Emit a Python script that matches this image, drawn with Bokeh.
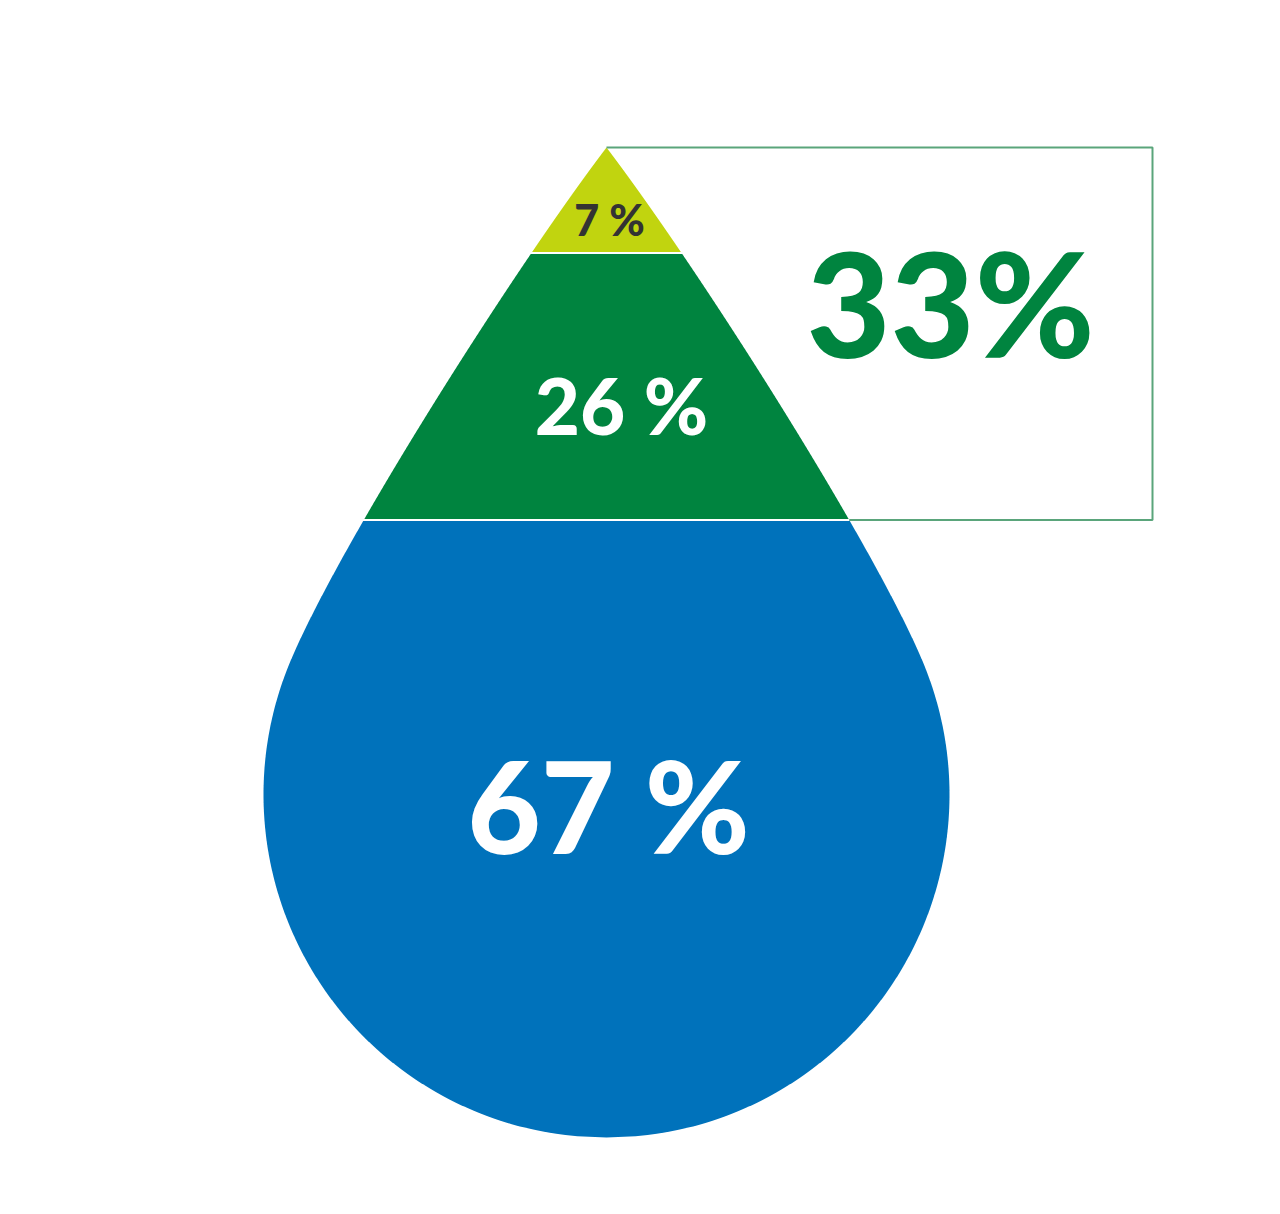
import numpy as np
from bokeh.plotting import figure
from bokeh.models import Range1d, ColumnDataSource
from bokeh.core.properties import value
from bokeh.embed import file_html
from bokeh.resources import INLINE

# ---- data ----
segments = ["Top", "Middle", "Bottom"]
shares = [7, 26, 67]
bracket_share = shares[0] + shares[1]  # 33

# ---- style ----
seg_colors = ["#c1d40f", "#00843f", "#0072bb"]
label_colors = ["#333333", "#ffffff", "#ffffff"]
label_px = [43, 78, 127]
FONT = "Lato Black, Lato"

W, H = 1264, 1198
p = figure(width=W, height=H, x_range=Range1d(0, W), y_range=Range1d(H, 0),
           output_backend="svg", toolbar_location=None, min_border=0)
p.axis.visible = False
p.grid.visible = False
p.outline_line_color = None
p.background_fill_color = "white"

# ---- drop geometry (layout) ----
cx, tip = 606.0, 147.0
R, circ_t = 343.0, 647.0
join_t = 520.0
join_x = np.sqrt(R ** 2 - (circ_t - join_t) ** 2)
end_dir = np.array([circ_t - join_t, join_x])
end_dir = end_dir / np.hypot(*end_dir)
start_dir = np.array([0.605, 0.796])
P0 = np.array([0.0, 0.0])
P1 = 160 * start_dir
P3 = np.array([join_x, join_t])
P2 = P3 - 120 * end_dir
s = np.linspace(0, 1, 500)[:, None]
bez = ((1 - s) ** 3) * P0 + 3 * ((1 - s) ** 2) * s * P1 + 3 * (1 - s) * s ** 2 * P2 + s ** 3 * P3
phi0 = np.arctan2(join_x, join_t - circ_t)
phi = np.linspace(phi0, 0, 500)[1:]
arc_x = R * np.sin(phi)
arc_t = circ_t + R * np.cos(phi)
prof_x = np.concatenate([bez[:, 0], arc_x])
prof_t = np.concatenate([bez[:, 1], arc_t])
order = np.argsort(prof_t)
prof_x, prof_t = prof_x[order], prof_t[order]


def half_width(t):
    return np.interp(t, prof_t, prof_x)


# cut positions of the segments along the drop (layout), with a 2px white gap
cuts = [0.0, 105.5, 372.5, circ_t + R]
gap = 1.0
xs, ys = [], []
for i in range(len(shares)):
    a = cuts[i] + (gap if i > 0 else 0)
    b = cuts[i + 1] - (gap if i < len(shares) - 1 else 0)
    tt = np.linspace(a, b, 500)
    w = half_width(tt)
    xs.append(list(np.concatenate([cx + w, cx - w[::-1]])))
    ys.append(list(np.concatenate([tip + tt, tip + tt[::-1]])))

src = ColumnDataSource(dict(xs=xs, ys=ys, color=seg_colors, seg=segments))
p.patches("xs", "ys", source=src, fill_color="color", line_color=None)

# ---- bracket around the top two segments ----
box_right = 1152.0
t_bot = cuts[2]
p.line([cx, box_right, box_right, cx + half_width(t_bot)],
       [tip, tip, tip + t_bot, tip + t_bot],
       line_color="#5aa57b", line_width=2)

# ---- labels ----
BASE_SHIFT = 0.42
label_base = [237, 437, 858]
label_x = [609, 621, 608]
for i in range(len(shares)):
    p.text(x=[label_x[i]], y=[label_base[i] - BASE_SHIFT * label_px[i]],
           text=[f"{shares[i]} %"],
           text_font=value(FONT), text_font_style="bold",
           text_font_size=f"{label_px[i]}px", text_color=label_colors[i],
           text_align="center", text_baseline="alphabetic")

big_px = 145
p.text(x=[950], y=[362 - BASE_SHIFT * big_px], text=[f"{bracket_share}%"],
       text_font=value(FONT), text_font_style="bold",
       text_font_size=f"{big_px}px", text_color="#00843f",
       text_align="center", text_baseline="alphabetic")

open("out.html", "w").write(file_html(p, INLINE))
